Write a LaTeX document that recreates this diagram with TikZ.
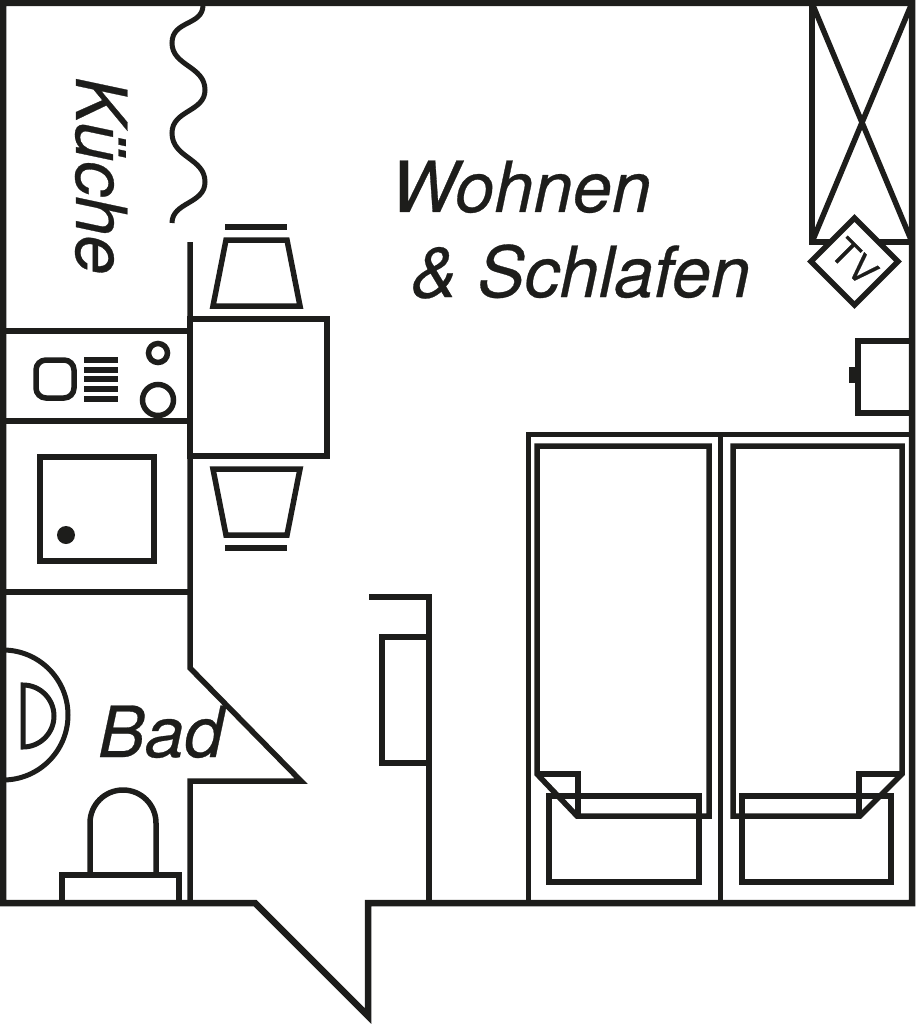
\documentclass[tikz,border=0pt]{standalone}
\usepackage{fontspec}
\setmainfont{TeX Gyre Heros}
\definecolor{planink}{HTML}{1D1D1B}

\begin{document}
\begin{tikzpicture}[
        x=1pt, y=-1pt,
        line join=miter,
        every path/.style={draw=planink, line width=5.5pt},
        wall/.style={line width=6.5pt},
        thin wall/.style={line width=5pt},
        room label/.style={font=\fontsize{70.5}{80}\selectfont\itshape\addfontfeature{FakeBold=0.4}, text=planink, inner sep=0pt, outer sep=0pt, anchor=base west}
        ]

        \useasboundingbox[draw=none] (0,0) rectangle (915,1024);

        % Walls
        \draw[wall] (3,903) -- (3,3) -- (912,3) -- (912,903) -- (368,903) -- (368,1016) -- (255,903) -- cycle;
        \draw (190,242) -- (190,668) -- (301,781) -- (190,781) -- (190,903);
        \draw (369,597) -- (429,597) -- (429,903);
        \draw (429,637) -- (382,637) -- (382,763) -- (429,763);

        % Curtain
        \draw[thin wall] (203,5) .. controls (203,26) and (172,20) .. (172,43)
        .. controls (172,66) and (205,66) .. (205,90)
        .. controls (205,112) and (172,110) .. (172,133)
        .. controls (172,158) and (205,158) .. (205,182)
        .. controls (205,204) and (172,202) .. (172,223);

        % Kitchen
        \draw (3,331) -- (190,331);
        \draw (3,421) -- (190,421);
        \draw (3,592) -- (190,592);
        \draw[rounded corners=10pt] (36,360) rectangle (74,398);
        \foreach \y in {360,370,379,389,399}
        \draw (84,\y) -- (118,\y);
        \draw (158,353) circle (9.5);
        \draw (158,400) circle (15.5);
        \draw (40,457) rectangle (154,561);
        \fill[planink, draw=none] (66,535) circle (9);

        % Table and chairs
        \draw (190,319) rectangle (327,456);
        \draw (226,240) -- (287,240) -- (300,306) -- (213,306) -- cycle;
        \draw (225,227) -- (287,227);
        \draw (213,469) -- (300,469) -- (287,535) -- (226,535) -- cycle;
        \draw (225,548) -- (287,548);

        % Wardrobe and TV
        \draw (912,242) -- (812,242) -- (812,3);
        \draw (812,3) -- (912,242);
        \draw (912,3) -- (812,242);
        \node[draw, fill=white, minimum size=61.5pt, inner sep=0pt, rotate=-45,
        font=\fontsize{37}{40}\selectfont\addfontfeature{FakeBold=0.4}, text=planink] (tv) at (854.5,261.5) {TV};

        % Sideboard
        \draw (912,341) -- (858,341) -- (858,413) -- (912,413);
        \fill[planink, draw=none] (849,367) rectangle (857,383);

        % Beds
        \draw[thin wall] (912,434) -- (528,434) -- (528,903);
        \draw[thin wall] (720,434) -- (720,903);
        \draw (537,446) -- (709,446) -- (709,816) -- (577,816) -- (537,774) -- cycle;
        \draw (537,774) -- (578,774) -- (578,816);
        \draw (549,796) rectangle (699,882);
        \draw (733,446) -- (902,446) -- (902,774) -- (860,816) -- (733,816) -- cycle;
        \draw (902,774) -- (859,774) -- (859,816);
        \draw (742,796) rectangle (891,882);

        % Bath
        \draw[thin wall] (3,650) arc (-90:90:65);
        \draw[thin wall] (23,685) arc (-90:90:31) -- cycle;
        \draw (90,875) -- (90,823) arc (180:360:33) -- (156,875);
        \draw (62,903) -- (62,875) -- (179,875) -- (179,903);

        % Labels
        \node[room label] (wohnen) at (391,212) {Wohnen};
        \node[room label] (schlafen) at (411,297) {\& Schlafen};
        \node[room label] (bad) at (98,757) {Bad};
        \node[room label, rotate=-90] (kueche) at (76,77) {Küche};

      \end{tikzpicture}
\end{document}
